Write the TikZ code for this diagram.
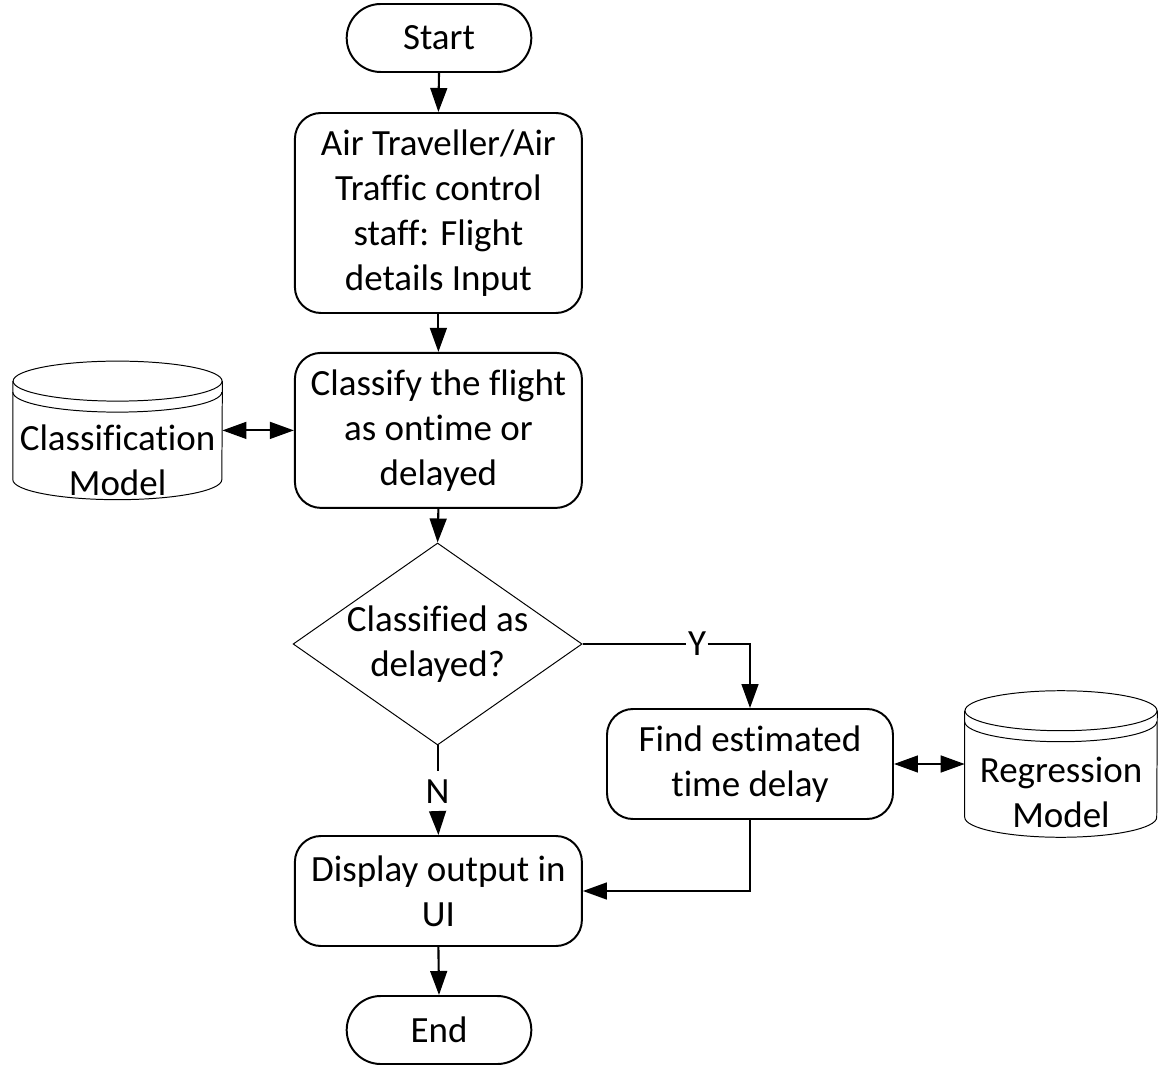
\documentclass[tikz,border=0pt]{standalone}
\usepackage{fontspec}
\setmainfont[Ligatures={NoCommon,NoContextual},RawFeature={-liga;-clig;-dlig;-calt}]{Carlito}
\usetikzlibrary{shapes.geometric,shapes.misc,arrows.meta}

\colorlet{box edge}{black}
\tikzset{
  thickline/.style={draw=box edge, line width=1.4pt},
  thinline/.style={draw=box edge, line width=0.7pt}
  }
\tikzstyle{terminal} = [rounded rectangle, thickline, minimum width=4.85cm, minimum height=1.7cm]
\tikzstyle{process} = [rectangle, rounded corners=0.65cm, thickline, minimum width=7.175cm, align=center]
\tikzstyle{decision} = [diamond, thinline, aspect=1.43, inner sep=-4pt, minimum width=7.225cm, minimum height=5.05cm, align=center]
\tikzstyle{store} = [rectangle, inner sep=0pt]
\tikzstyle{store text} = [align=center]
\tikzstyle{tag} = [fill=white, inner sep=1pt, text depth=0pt]
\tikzstyle{flow} = [draw, line width=1.5pt, -{Triangle[length=0.6cm,width=0.42cm]}]
\tikzstyle{link} = [draw, line width=1.5pt, {Triangle[length=0.6cm,width=0.42cm]}-{Triangle[length=0.6cm,width=0.42cm]}]

% drum outline round a store node: #1 node, #2 half width
\newcommand{\drum}[2]{%
  \draw[thinline] ([yshift=-0.5cm]#1.north west) -- ([yshift=0.5cm]#1.south west)
    arc[start angle=180, end angle=360, x radius=#2, y radius=0.5cm]
    -- ([yshift=-0.5cm]#1.north east);
  \draw[thinline] ([yshift=-0.5cm]#1.north) ellipse [x radius=#2, y radius=0.5cm];
  \draw[thinline] ([yshift=-0.775cm]#1.north west)
    arc[start angle=180, end angle=360, x radius=#2, y radius=0.5cm];
}

\begin{document}
\begin{tikzpicture}[font=\fontsize{26.3}{31.9}\selectfont]
    \useasboundingbox (0,0) rectangle (29.3,-26.8);

    % The main column
    \node[terminal] (start) at (10.975,-0.95) {Start};
    \node[process, minimum height=5cm] (input) at (10.96,-5.325)
      {Air Traveller/Air\\Traffic control\\staff: Flight\\details Input};
    \node[process, minimum height=3.875cm] (classify) at (10.96,-10.76)
      {Classify the flight\\as ontime or\\delayed};
    \node[decision] (ask) at (10.94,-16.1) {Classified as\\delayed?};
    \node[process, minimum height=2.75cm] (show) at (10.96,-22.275)
      {Display output in\\UI};
    \node[terminal] (end) at (10.975,-25.75) {End};

    % The side branch
    \node[process, minimum height=2.75cm, minimum width=7.15cm] (find) at (18.75,-19.1)
      {Find estimated\\time delay};

    % The two models
    \node[store, minimum width=5.225cm, minimum height=3.45cm] (clsdb) at (2.94,-10.76) {};
    \drum{clsdb}{2.6125cm}
    \node[store text] (clstxt) at ([yshift=-0.75cm]clsdb.center) {Classification\\Model};
    \node[store, minimum width=4.8cm, minimum height=3.65cm] (regdb) at (26.525,-19.1) {};
    \drum{regdb}{2.4cm}
    \node[store text] (regtxt) at ([yshift=-0.7cm]regdb.center) {Regression\\Model};

    % The answers
    \node[tag] (yes) at (17.425,-16.1) {Y};
    \node[tag, inner sep=0.2cm] (no) at (10.94,-19.79) {N};

    % The connections
    \foreach \source/\sink in {start/input, input/classify, classify/ask, show/end}
      \path[flow] (\source.south) -- (\sink.north);
    \draw[thickline] (ask.east) -- (yes.west);
    \path[flow] (yes.east) -| (find.north);
    \draw[thickline] (ask.south) -- (no.north);
    \path[flow] (no.south) -- (show.north);
    \path[flow] (find.south) |- (show.east);

    % The model look-ups
    \path[link] (clsdb.east) -- (classify.west);
    \path[link] (find.east) -- (regdb.west);
\end{tikzpicture}
\end{document}
